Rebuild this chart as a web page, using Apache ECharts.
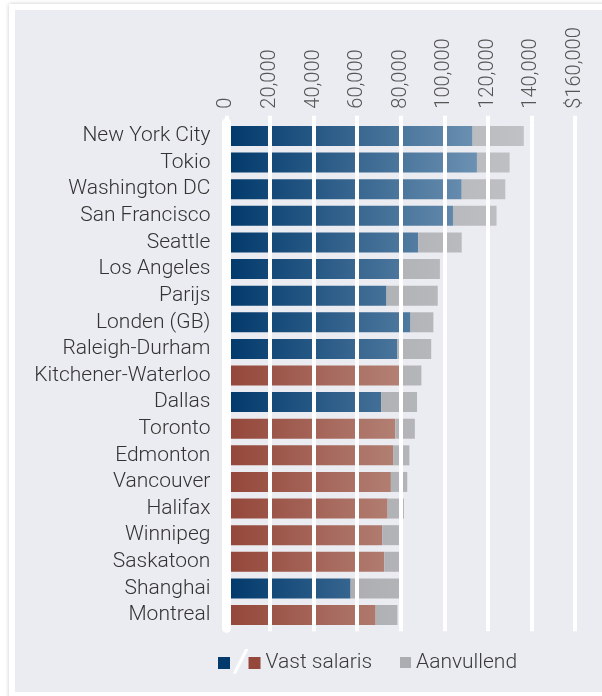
<!DOCTYPE html>
<html>
<head>
<meta charset="utf-8">
<script src="https://cdn.jsdelivr.net/npm/echarts@6/dist/echarts.min.js"></script>
<style>
  html, body { margin: 0; padding: 0; background: #fff; overflow: hidden; }
  .frame {
    position: absolute; left: 9px; top: 4px; width: 620px; height: 720px;
    background: #fff; box-shadow: 0 0 4px rgba(0, 0, 0, 0.22);
  }
  .panel {
    position: absolute; left: 15px; top: 10px; width: 600px; height: 682px;
    background: #ebecf1;
  }
  #chart { position: absolute; left: 0; top: 0; width: 602px; height: 696px; }
</style>
</head>
<body>
<div class="frame"></div>
<div class="panel"></div>
<div id="chart"></div>
<script>
// cities top to bottom
const cities = ['New York City', 'Tokio', 'Washington DC', 'San Francisco', 'Seattle', 'Los Angeles',
  'Parijs', 'Londen (GB)', 'Raleigh-Durham', 'Kitchener-Waterloo', 'Dallas', 'Toronto', 'Edmonton',
  'Vancouver', 'Halifax', 'Winnipeg', 'Saskatoon', 'Shanghai', 'Montreal'];
// 1 = Canadese stad (rood), 0 = elders (blauw)
const canadian = [0, 0, 0, 0, 0, 0, 0, 0, 0, 1, 0, 1, 1, 1, 1, 1, 1, 0, 1];
const baseSalary = [113000, 115000, 108000, 104000, 88000, 80000, 73500, 84500, 78500, 80000,
  71000, 77500, 76500, 75500, 74000, 71500, 72500, 57000, 68500];
const extra = [23500, 15000, 20000, 20000, 20000, 18000, 23500, 10500, 15500, 9500,
  16500, 9000, 7500, 7500, 7500, 8500, 7500, 23000, 10000];
const xTicks = [0, 20000, 40000, 60000, 80000, 100000, 120000, 140000, 160000];

const chart = echarts.init(document.getElementById('chart'));

// kleurverloop loopt over de as, niet per balk
const blueFill = new echarts.graphic.LinearGradient(229, 0, 480, 0, [
  { offset: 0, color: '#023a6c' },
  { offset: 1, color: '#6d92b3' }
], true);
const redFill = new echarts.graphic.LinearGradient(229, 0, 400, 0, [
  { offset: 0, color: '#94473a' },
  { offset: 1, color: '#b48175' }
], true);
const greyFill = new echarts.graphic.LinearGradient(340, 0, 530, 0, [
  { offset: 0, color: '#acadb1' },
  { offset: 1, color: '#c1c2c6' }
], true);

const blueData = baseSalary.map((v, i) => canadian[i] ? '-' : v);
const redData = baseSalary.map((v, i) => canadian[i] ? v : '-');

const fmt = v => {
  const s = String(v).replace(/\B(?=(\d{3})+(?!\d))/g, ',');
  return v === xTicks[xTicks.length - 1] ? '$' + s : s;
};

const legendText = {
  color: '#3a3a3a',
  fontSize: 21,
  fontWeight: 300,
  rich: { s: { color: '#fff', fontSize: 32, fontWeight: 'bold', fontStyle: 'italic' } }
};

chart.setOption({
  animation: false,
  textStyle: { fontFamily: 'Roboto' },
  grid: { left: 226.4, right: 27, top: 122.7, height: 505.6, containLabel: false },
  legend: [
    {
      left: 218,
      top: 647,
      padding: 0,
      itemWidth: 12,
      itemHeight: 12,
      itemGap: 2,
      icon: 'rect',
      data: ['VS', 'Vast salaris'],
      formatter: name => name === 'VS' ? '{s|/}' : name,
      textStyle: legendText
    },
    {
      left: 400,
      top: 652,
      padding: 0,
      itemWidth: 11,
      itemHeight: 11,
      icon: 'rect',
      data: ['Aanvullend'],
      textStyle: legendText
    }
  ],
  xAxis: [
    {
      type: 'value',
      position: 'top',
      min: 0,
      max: 160000,
      interval: 20000,
      z: 5,
      axisLine: { show: false },
      axisTick: { show: true, length: 7, lineStyle: { color: '#fff', width: 4 } },
      axisLabel: {
        rotate: -90,
        margin: 14,
        color: '#555',
        fontSize: 20,
        fontWeight: 300,
        formatter: fmt
      },
      splitLine: { show: true, lineStyle: { color: '#fff', width: 4 } }
    },
    {
      type: 'value',
      position: 'bottom',
      min: 0,
      max: 160000,
      interval: 20000,
      z: 5,
      axisLine: { show: false },
      axisTick: { show: true, length: 3, lineStyle: { color: '#fff', width: 4 } },
      axisLabel: { show: false },
      splitLine: { show: false }
    }
  ],
  yAxis: {
    type: 'category',
    data: cities,
    inverse: true,
    offset: 2,
    z: 5,
    axisLine: { show: true, lineStyle: { color: '#fff', width: 9 } },
    axisTick: { show: false },
    axisLabel: {
      color: '#333', fontSize: 21, fontWeight: 300, margin: 14,
      interval: 0, padding: [5, 0, 0, 0]
    }
  },
  series: [
    {
      name: 'VS',
      type: 'bar',
      stack: 'totaal',
      barWidth: 20,
      itemStyle: { color: blueFill },
      data: blueData
    },
    {
      name: 'Vast salaris',
      type: 'bar',
      stack: 'totaal',
      barWidth: 20,
      itemStyle: { color: redFill },
      data: redData
    },
    {
      name: 'Aanvullend',
      type: 'bar',
      stack: 'totaal',
      barWidth: 20,
      itemStyle: { color: greyFill },
      data: extra
    }
  ]
});
</script>
</body>
</html>
